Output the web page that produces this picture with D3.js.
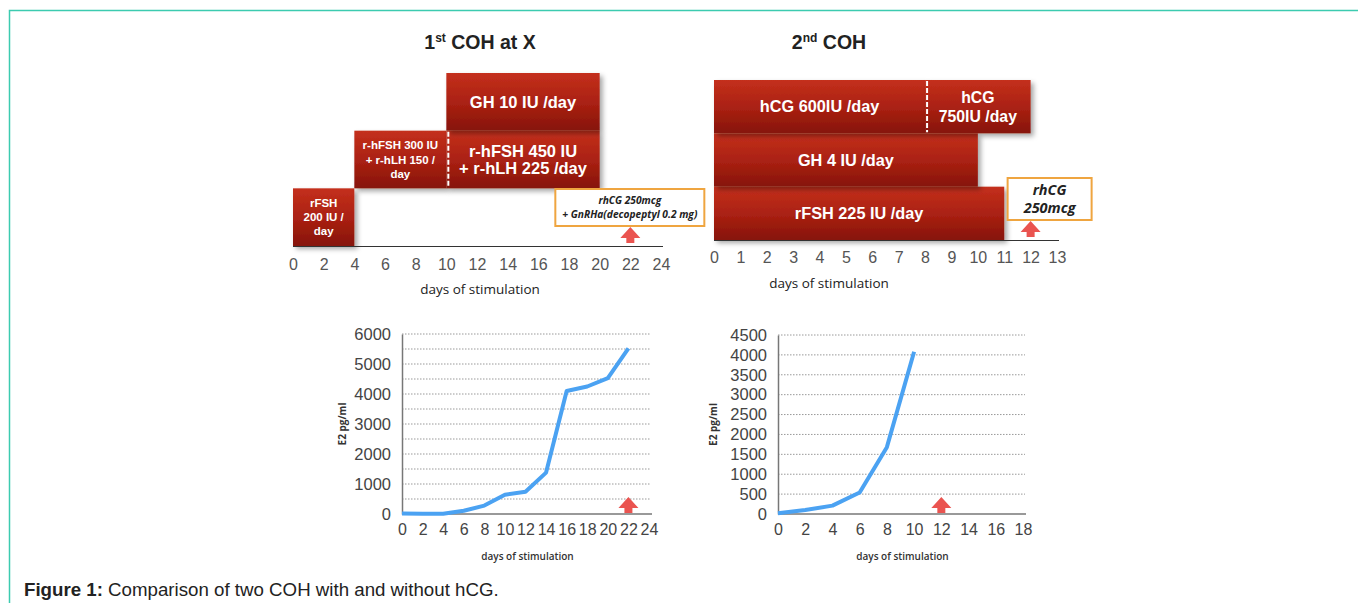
<!DOCTYPE html>
<html lang="en">
  <head>
    <meta charset="utf-8">
    <title>Comparison of two COH</title>
    <script src="https://d3js.org/d3.v7.js"></script>
    <style>
      body { margin: 0; background: #fff; }
    </style>
  </head>

  <body>

  <script>

// ---- data: 1st COH protocol (Gantt) ----
  var coh1Labels = [["rFSH", "200 IU /", "day"],
                    ["r-hFSH 300 IU", "+ r-hLH 150 /", "day"],
                    ["r-hFSH 450 IU", "+ r-hLH 225 /day"],
                    ["GH 10 IU /day"]];
  var coh1Start = [0, 4, 10, 10];
  var coh1End   = [4, 10, 20, 20];
  var coh1Row   = [0, 1, 1, 2];
  var coh1Trigger = 22;
  var coh1TriggerText = ["rhCG 250mcg", "+ GnRHa(decopeptyl 0.2 mg)"];
  var coh1Ticks = [0, 2, 4, 6, 8, 10, 12, 14, 16, 18, 20, 22, 24];

// ---- data: 2nd COH protocol (Gantt) ----
  var coh2Labels = [["rFSH 225 IU /day"],
                    ["GH 4 IU /day"],
                    ["hCG 600IU /day"],
                    ["hCG", "750IU /day"]];
  var coh2Start = [0, 0, 0, 8];
  var coh2End   = [11, 10, 8, 12];
  var coh2Row   = [0, 1, 2, 2];
  var coh2Trigger = 12;
  var coh2TriggerText = ["rhCG", "250mcg"];
  var coh2Ticks = d3.range(0, 14);

// ---- data: E2 curves ----
  var e2Days1 = [0, 2, 4, 6, 8, 10, 12, 14, 16, 18, 20, 22];
  var e2Vals1 = [20, 10, 10, 110, 280, 640, 740, 1380, 4100, 4250, 4530, 5520];
  var e2Days2 = [0, 2, 4, 6, 8, 10];
  var e2Vals2 = [20, 100, 210, 540, 1680, 4080];

  var W = 1358, H = 603;
  var SANS = "'Liberation Sans', Arial, sans-serif";
  var OPEN = "'Open Sans', sans-serif";

  var svg = d3.select("body")
    .append("svg")
      .attr("width", W)
      .attr("height", H)
      .attr("font-family", SANS);

  var defs = svg.append("defs");
  var grad = defs.append("linearGradient")
      .attr("id", "barGrad")
      .attr("x1", 0).attr("y1", 0).attr("x2", 0).attr("y2", 1);
  grad.append("stop").attr("offset", "0%").attr("stop-color", "#c4301c");
  grad.append("stop").attr("offset", "55%").attr("stop-color", "#a82012");
  grad.append("stop").attr("offset", "100%").attr("stop-color", "#861409");

  var shadow = defs.append("filter")
      .attr("id", "shadow")
      .attr("x", "-10%").attr("y", "-10%")
      .attr("width", "130%").attr("height", "140%");
  shadow.append("feDropShadow")
      .attr("dx", 3).attr("dy", 3)
      .attr("stdDeviation", 2.5)
      .attr("flood-color", "#000")
      .attr("flood-opacity", 0.35);

// frame
  svg.append("path")
      .attr("d", "M9.5," + H + "V10.5H" + W)
      .attr("fill", "none")
      .attr("stroke", "#3ccbb0")
      .attr("stroke-width", 1.5);

// ---- Gantt drawing ----
  function gantt(opt) {
    var x = d3.scaleLinear().domain(opt.domain).range(opt.xRange);
    var y = d3.scaleBand().domain([2, 1, 0]).range(opt.yRange);
    var g = svg.append("g");

    g.append("text")
      .attr("x", opt.titleX).attr("y", 49)
      .attr("text-anchor", "middle")
      .attr("font-size", 19.5).attr("font-weight", "bold").attr("fill", "#222")
      .call(t => {
        t.append("tspan").text(opt.title[0]);
        t.append("tspan").text(opt.title[1])
          .attr("font-size", 12).attr("dy", -7);
        t.append("tspan").text(opt.title[2]).attr("dy", 7);
      });

    var idx = d3.range(opt.start.length);

    g.selectAll("rect.bar")
      .data(idx)
      .enter().append("rect")
      .attr("class", "bar")
      .attr("x", i => x(opt.start[i]))
      .attr("y", i => y(opt.row[i]))
      .attr("width", i => x(opt.end[i]) - x(opt.start[i]))
      .attr("height", y.bandwidth())
      .attr("fill", "url(#barGrad)")
      .attr("filter", "url(#shadow)");

    // dashed white separators where a dose changes within a row
    opt.splits.forEach(s => {
      g.append("line")
        .attr("x1", x(s[0]) + 2).attr("x2", x(s[0]) + 2)
        .attr("y1", y(s[1]) + 1).attr("y2", y(s[1]) + y.bandwidth() - 1)
        .attr("stroke", "#fff").attr("stroke-width", 2)
        .attr("stroke-dasharray", "5,2");
    });

    idx.forEach(i => {
      var lines = opt.labels[i];
      var fs = opt.fontSize[i];
      var cx = (x(opt.start[i]) + x(opt.end[i])) / 2;
      var cy = y(opt.row[i]) + y.bandwidth() / 2;
      var lh = fs * opt.lineH[i];
      var t = g.append("text")
        .attr("text-anchor", "middle")
        .attr("font-size", fs).attr("font-weight", "bold")
        .attr("fill", "#fff");
      lines.forEach((l, k) => {
        t.append("tspan")
          .attr("x", cx)
          .attr("y", cy + (k - (lines.length - 1) / 2) * lh + fs * 0.35)
          .text(l);
      });
    });

    // axis
    var axis = d3.axisBottom(x).tickValues(opt.ticks).tickSize(0).tickPadding(opt.pad);
    var ax = g.append("g")
      .attr("transform", "translate(0," + opt.yRange[1] + ")")
      .call(axis);
    ax.select(".domain").attr("stroke", "#333").attr("stroke-width", 1.2)
      .attr("d", "M" + opt.xRange[0] + ",0.5H" + (opt.xRange[1] + 2));
    ax.selectAll("text")
      .attr("font-family", SANS)
      .attr("font-size", 16).attr("fill", "#555");

    g.append("text")
      .attr("x", opt.titleX).attr("y", opt.yRange[1] + 48)
      .attr("text-anchor", "middle")
      .attr("font-family", OPEN)
      .attr("font-size", 13.5).attr("fill", "#222")
      .text("days of stimulation");

    // trigger box
    var b = opt.box;
    g.append("rect")
      .attr("x", x(opt.trigger) + b.dx).attr("y", b.y)
      .attr("width", b.w).attr("height", b.h)
      .attr("fill", "#fff").attr("stroke", "#efa540").attr("stroke-width", 2);
    var bt = g.append("text")
      .attr("text-anchor", "middle")
      .attr("font-family", OPEN)
      .attr("font-style", "italic").attr("font-weight", "bold")
      .attr("font-size", b.fs).attr("fill", "#222");
    opt.triggerText.forEach((l, k) => {
      bt.append("tspan")
        .attr("x", x(opt.trigger) + b.dx + b.w / 2)
        .attr("y", b.y + b.h / 2 + (k - (opt.triggerText.length - 1) / 2) * b.fs * b.lh + b.fs * 0.35)
        .text(l);
    });

    arrow(g, x(opt.trigger), opt.yRange[1] - 3);
  }

  function arrow(g, cx, base) {
    g.append("path")
      .attr("d", "M" + cx + "," + (base - 16) + "L" + (cx + 10) + "," + (base - 5) +
                 "L" + (cx + 4) + "," + (base - 5) + "L" + (cx + 4) + "," + base +
                 "L" + (cx - 4) + "," + base + "L" + (cx - 4) + "," + (base - 5) +
                 "L" + (cx - 10) + "," + (base - 5) + "Z")
      .attr("fill", "#ea5450");
  }

  gantt({
    title: ["1", "st", " COH at X"], titleX: 480,
    domain: [0, 24], xRange: [293, 661], yRange: [73, 246],
    start: coh1Start, end: coh1End, row: coh1Row, labels: coh1Labels,
    fontSize: [11.5, 11.5, 16.5, 16.5], lineH: [1.22, 1.22, 1.05, 1],
    splits: [[10, 1]],
    ticks: coh1Ticks, pad: 13,
    trigger: coh1Trigger, triggerText: coh1TriggerText,
    box: { dx: -75, y: 189, w: 149, h: 37, fs: 10.2, lh: 1.45 }
  });

  gantt({
    title: ["2", "nd", " COH"], titleX: 829,
    domain: [0, 13], xRange: [714, 1057], yRange: [80, 240],
    start: coh2Start, end: coh2End, row: coh2Row, labels: coh2Labels,
    fontSize: [16.3, 16.3, 16.3, 15.8], lineH: [1, 1, 1, 1.2],
    splits: [[8, 2]],
    ticks: coh2Ticks, pad: 12,
    trigger: coh2Trigger, triggerText: coh2TriggerText,
    box: { dx: -23, y: 178, w: 84, h: 42, fs: 14.5, lh: 1.2 }
  });

// ---- E2 line charts ----
  function e2Chart(opt) {
    var x = d3.scaleLinear().domain(opt.xDomain).range(opt.xRange);
    var y = d3.scaleLinear().domain(opt.yDomain).range(opt.yRange);
    var g = svg.append("g");

    g.selectAll("line.grid")
      .data(d3.range(opt.gridStep, opt.yDomain[1] + 1, opt.gridStep))
      .enter().append("line")
      .attr("x1", opt.xRange[0]).attr("x2", opt.xRange[1] + 2)
      .attr("y1", d => y(d)).attr("y2", d => y(d))
      .attr("stroke", "#999").attr("stroke-width", 1)
      .attr("stroke-dasharray", "1.5,1.5");

    var ya = g.append("g")
      .attr("transform", "translate(" + opt.xRange[0] + ",0)")
      .call(d3.axisLeft(y).tickValues(opt.yTicks).tickSize(0).tickPadding(11).tickFormat(d3.format("d")));
    ya.select(".domain").attr("stroke", "#777").attr("stroke-width", 1.5);
    ya.selectAll("text")
      .attr("font-family", SANS)
      .attr("font-size", 16.5).attr("fill", "#444");

    var xa = g.append("g")
      .attr("transform", "translate(0," + opt.yRange[0] + ")")
      .call(d3.axisBottom(x).tickValues(opt.xTicks).tickSize(0).tickPadding(10));
    xa.select(".domain").attr("stroke", "#999").attr("stroke-width", 2)
      .attr("d", "M" + opt.xRange[0] + ",0H" + (opt.xRange[1] + 3));
    xa.selectAll("text")
      .attr("font-family", SANS)
      .attr("font-size", 16).attr("fill", "#444");

    g.append("text")
      .attr("transform", "translate(" + opt.yLabelX + "," + ((opt.yRange[0] + opt.yRange[1]) / 2) + ") rotate(-90)")
      .attr("text-anchor", "middle")
      .attr("font-family", OPEN)
      .attr("font-size", 10).attr("font-weight", "bold").attr("fill", "#333")
      .text("E2 pg/ml");

    g.append("text")
      .attr("x", (opt.xRange[0] + opt.xRange[1]) / 2 + 2).attr("y", opt.yRange[0] + 46)
      .attr("text-anchor", "middle")
      .attr("font-family", OPEN)
      .attr("font-size", 10).attr("font-weight", 600).attr("fill", "#333")
      .text("days of stimulation");

    arrow(g, x(opt.trigger), opt.yRange[0] - 1);

    var line = d3.line()
      .x((d, i) => x(opt.days[i]))
      .y(d => y(d));
    g.append("path")
      .datum(opt.vals)
      .attr("d", line)
      .attr("fill", "none")
      .attr("stroke", "#4ba2f2")
      .attr("stroke-width", 4)
      .attr("stroke-linejoin", "round");
  }

  e2Chart({
    xDomain: [0, 24], xRange: [402, 649], yDomain: [0, 6000], yRange: [514, 334],
    xTicks: coh1Ticks, yTicks: d3.range(0, 6001, 1000), gridStep: 500,
    days: e2Days1, vals: e2Vals1, trigger: coh1Trigger, yLabelX: 346
  });

  e2Chart({
    xDomain: [0, 18], xRange: [778, 1023], yDomain: [0, 4500], yRange: [514, 335],
    xTicks: d3.range(0, 19, 2), yTicks: d3.range(0, 4501, 500), gridStep: 500,
    days: e2Days2, vals: e2Vals2, trigger: coh2Trigger, yLabelX: 717
  });

// caption
  svg.append("text")
    .attr("x", 24).attr("y", 596)
    .attr("font-family", SANS)
    .attr("font-size", 18.7).attr("fill", "#222")
    .call(t => {
      t.append("tspan").attr("font-weight", "bold").text("Figure 1:");
      t.append("tspan").text(" Comparison of two COH with and without hCG.");
    });

    </script>

  </body>

</html>
